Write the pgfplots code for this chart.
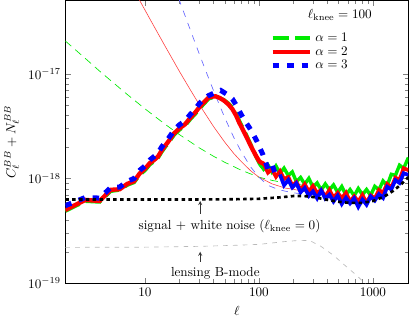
\documentclass[border=0pt]{standalone}
\usepackage{pgfplots}
\pgfplotsset{compat=1.18}
\definecolor{mygreen}{RGB}{0,235,0}
\begin{document}
\begin{tikzpicture}
\begin{axis}[
  xmode=log, ymode=log,
  scale only axis, width=261pt, height=215pt,
  xmin=2, xmax=2048, ymin=1e-19, ymax=5e-17,
  xtick={10,100,1000}, xticklabels={10,100,1000},
  ytick={1e-19,1e-18,1e-17},
  tick align=inside,
  axis line style={line width=0.9pt},
  xlabel={$\ell$}, ylabel={$C_\ell^{BB}+N_\ell^{BB}$},
  legend style={draw=none, fill=none, at={(0.585,0.905)}, anchor=north west, row sep=-1.5pt},
  legend cell align=left,
  legend image code/.code={\draw[#1] (0cm,0cm) -- (1cm,0cm);},
]
% lensing B-mode
\addplot[gray!55, line width=0.5pt, dash pattern=on 3.5pt off 4pt, forget plot] coordinates {
(2,2.2e-19)(10,2.21e-19)(30,2.25e-19)(60,2.3e-19)(100,2.35e-19)(170,2.5e-19)(230,2.57e-19)(280,2.55e-19)(350,2.25e-19)(450,1.85e-19)(560,1.5e-19)(700,1.22e-19)(850,1.0e-19)(1000,0.85e-19)};
% thin model curves
\addplot[mygreen, line width=0.5pt, dash pattern=on 6pt off 4pt, forget plot] coordinates {
(2,2.06e-17)(3,1.40e-17)(4,1.06e-17)(5,8.63e-18)(7,6.34e-18)(10,4.63e-18)(15,3.30e-18)(20,2.63e-18)(30,1.96e-18)(40,1.63e-18)(50,1.43e-18)(70,1.20e-18)(100,1.03e-18)(130,9.6e-19)(160,9.2e-19)(200,8.9e-19)(250,8.6e-19)};
\addplot[red!75, line width=0.45pt, forget plot] coordinates {
(8,6.31e-17)(10,4.06e-17)(12,2.84e-17)(15,1.84e-17)(20,1.06e-17)(25,7.03e-18)(30,5.07e-18)(40,3.13e-18)(50,2.23e-18)(60,1.74e-18)(70,1.45e-18)(85,1.18e-18)(100,1.03e-18)(130,8.9e-19)(170,8.1e-19)(200,7.9e-19)(250,7.5e-19)(300,7.2e-19)};
\addplot[blue!60, line width=0.5pt, dash pattern=on 5pt off 5pt, forget plot] coordinates {
(18,6.9e-17)(20,5.06e-17)(25,2.62e-17)(30,1.54e-17)(35,9.96e-18)(40,6.88e-18)(50,3.83e-18)(60,2.48e-18)(70,1.80e-18)(85,1.28e-18)(100,1.03e-18)(120,8.6e-19)(150,7.8e-19)(200,7.3e-19)(250,7.1e-19)};
% alpha = 1
\addplot[mygreen, line width=3pt, dash pattern=on 12pt off 5pt] coordinates {
(2,4.9e-19)(3,6.1e-19)(4,6.0e-19)(5,7.6e-19)(6,7.8e-19)(7,8.7e-19)(8,9.2e-19)(9,1.09e-18)(10,1.2e-18)(11,1.36e-18)(12,1.46e-18)(13,1.58e-18)(14,1.8e-18)(15,2.0e-18)(16,2.18e-18)(18,2.62e-18)(20,2.92e-18)(22.4,3.2e-18)(25,3.7e-18)(27.6,4.15e-18)(30,4.65e-18)(32.7,5.15e-18)(36.2,5.8e-18)(39,5.95e-18)(41.6,6.0e-18)(45,5.9e-18)(49.4,5.6e-18)(54,5.2e-18)(58.5,4.75e-18)(63,4.15e-18)(67.1,3.55e-18)(72,3.05e-18)(77.1,2.62e-18)(83,2.2e-18)(88.3,1.9e-18)(95,1.6e-18)(101,1.4e-18)(110,1.226e-18)};
\addlegendentry{$\alpha=1$}
\addplot[mygreen, line width=2.6pt, forget plot] coordinates {
(101,1.4e-18)(110,1.226e-18)(120,1.346e-18)(130,1.153e-18)(141,1.318e-18)(153,1.120e-18)(166,1.256e-18)(181,1.067e-18)(196,1.156e-18)(213,0.933e-18)(232,1.023e-18)(252,0.884e-18)(274,1.003e-18)(298,0.827e-18)(324,0.907e-18)(352,0.778e-18)(382,0.888e-18)(415,0.780e-18)(451,0.868e-18)(491,0.739e-18)(533,0.839e-18)(580,0.697e-18)(630,0.784e-18)(685,0.684e-18)(744,0.803e-18)(809,0.700e-18)(879,0.785e-18)(955,0.690e-18)(1038,0.842e-18)(1129,0.780e-18)(1227,0.948e-18)(1333,0.852e-18)(1449,1.097e-18)(1575,1.071e-18)(1712,1.340e-18)(1861,1.251e-18)(2048,1.586e-18)};
% alpha = 2
\addplot[red, line width=3.3pt] coordinates {
(2,5.0e-19)(3,6.25e-19)(4,6.1e-19)(5,7.8e-19)(6,7.9e-19)(7,8.9e-19)(8,9.4e-19)(9,1.12e-18)(10,1.24e-18)(11,1.40e-18)(12,1.50e-18)(13,1.62e-18)(14,1.85e-18)(15,2.05e-18)(16,2.25e-18)(18,2.7e-18)(20,3.0e-18)(22.4,3.29e-18)(25,3.8e-18)(27.6,4.27e-18)(30,4.8e-18)(32.7,5.3e-18)(36.2,5.95e-18)(39,6.05e-18)(41.6,6.1e-18)(45,5.9e-18)(49.4,5.55e-18)(54,5.1e-18)(58.5,4.6e-18)(63,4.0e-18)(67.1,3.42e-18)(72,2.95e-18)(77.1,2.54e-18)(83,2.15e-18)(88.3,1.88e-18)(95,1.62e-18)(101,1.45e-18)(110,1.38e-18)};
\addlegendentry{$\alpha=2$}
\addplot[red, line width=2.8pt, forget plot] coordinates {
(101,1.45e-18)(110,1.38e-18)(120,1.137e-18)(130,1.229e-18)(141,1.04e-18)(153,1.177e-18)(166,0.989e-18)(181,1.034e-18)(196,0.856e-18)(213,0.926e-18)(232,0.778e-18)(252,0.883e-18)(274,0.752e-18)(298,0.850e-18)(324,0.727e-18)(352,0.78e-18)(382,0.669e-18)(415,0.778e-18)(451,0.656e-18)(491,0.731e-18)(533,0.648e-18)(580,0.732e-18)(630,0.603e-18)(685,0.677e-18)(744,0.602e-18)(809,0.698e-18)(879,0.585e-18)(955,0.692e-18)(1038,0.642e-18)(1129,0.778e-18)(1227,0.732e-18)(1333,0.888e-18)(1449,0.819e-18)(1575,1.019e-18)(1712,0.975e-18)(1861,1.254e-18)(2048,1.203e-18)};
% alpha = 3
\addplot[blue, line width=3.8pt, dash pattern=on 5pt off 6pt] coordinates {
(2,5.5e-19)(3,6.6e-19)(4,6.5e-19)(5,8.2e-19)(6,8.3e-19)(7,9.4e-19)(8,1.0e-18)(9,1.2e-18)(10,1.32e-18)(11,1.5e-18)(12,1.62e-18)(13,1.75e-18)(14,2.0e-18)(15,2.2e-18)(16,2.4e-18)(18,2.9e-18)(20,3.25e-18)(22.4,3.55e-18)(25,4.1e-18)(27.6,4.6e-18)(30,5.2e-18)(32.7,5.7e-18)(36.2,6.2e-18)(41,6.6e-18)(46.1,6.95e-18)(52,6.4e-18)(58.5,5.75e-18)(64,4.9e-18)(69.5,4.12e-18)(76,3.5e-18)(82.6,3.05e-18)(89,2.65e-18)(96,2.27e-18)(102,1.95e-18)(108.6,1.68e-18)(120,1.233e-18)(130,1.365e-18)(141,1.062e-18)(153,1.089e-18)};
\addlegendentry{$\alpha=3$}
\addplot[blue, line width=2.8pt, forget plot] coordinates {
(153,1.089e-18)(166,0.862e-18)(181,0.970e-18)(196,0.822e-18)(213,0.902e-18)(232,0.739e-18)(252,0.813e-18)(274,0.684e-18)(298,0.754e-18)(324,0.647e-18)(352,0.767e-18)(382,0.643e-18)(415,0.703e-18)(451,0.603e-18)(491,0.687e-18)(533,0.571e-18)(580,0.656e-18)(630,0.579e-18)(685,0.648e-18)(744,0.536e-18)(809,0.631e-18)(879,0.562e-18)(955,0.674e-18)(1038,0.616e-18)(1129,0.710e-18)(1227,0.652e-18)(1333,0.834e-18)(1449,0.787e-18)(1575,0.965e-18)(1712,0.907e-18)(1861,1.123e-18)(2048,1.083e-18)};
% signal + white noise
\addplot[black, line width=2pt, dash pattern=on 2.7pt off 2.5pt, forget plot] coordinates {
(2,6.3e-19)(10,6.3e-19)(50,6.32e-19)(100,6.4e-19)(150,6.6e-19)(200,6.8e-19)(250,6.8e-19)(300,6.65e-19)(400,6.25e-19)(500,6.0e-19)(625,5.85e-19)(800,5.85e-19)(1000,6.1e-19)(1250,6.7e-19)(1500,7.6e-19)(1750,8.7e-19)(2048,1.03e-18)};
\node at (axis cs:55.2,3.5e-19) {signal + white noise ($\ell_{\rm knee}=0$)};
\node at (axis cs:41.4,1.25e-19) {lensing B-mode};
\draw[-stealth, black!80, line width=0.4pt] (axis cs:30.5,4.6e-19) -- (axis cs:30.5,6.1e-19);
\draw[-stealth, black!80, line width=0.4pt] (axis cs:30.5,1.6e-19) -- (axis cs:30.5,2.0e-19);
\node at (rel axis cs:0.80,0.951) {$\ell_{\rm knee}=100$};
\end{axis}
\end{tikzpicture}
\end{document}
